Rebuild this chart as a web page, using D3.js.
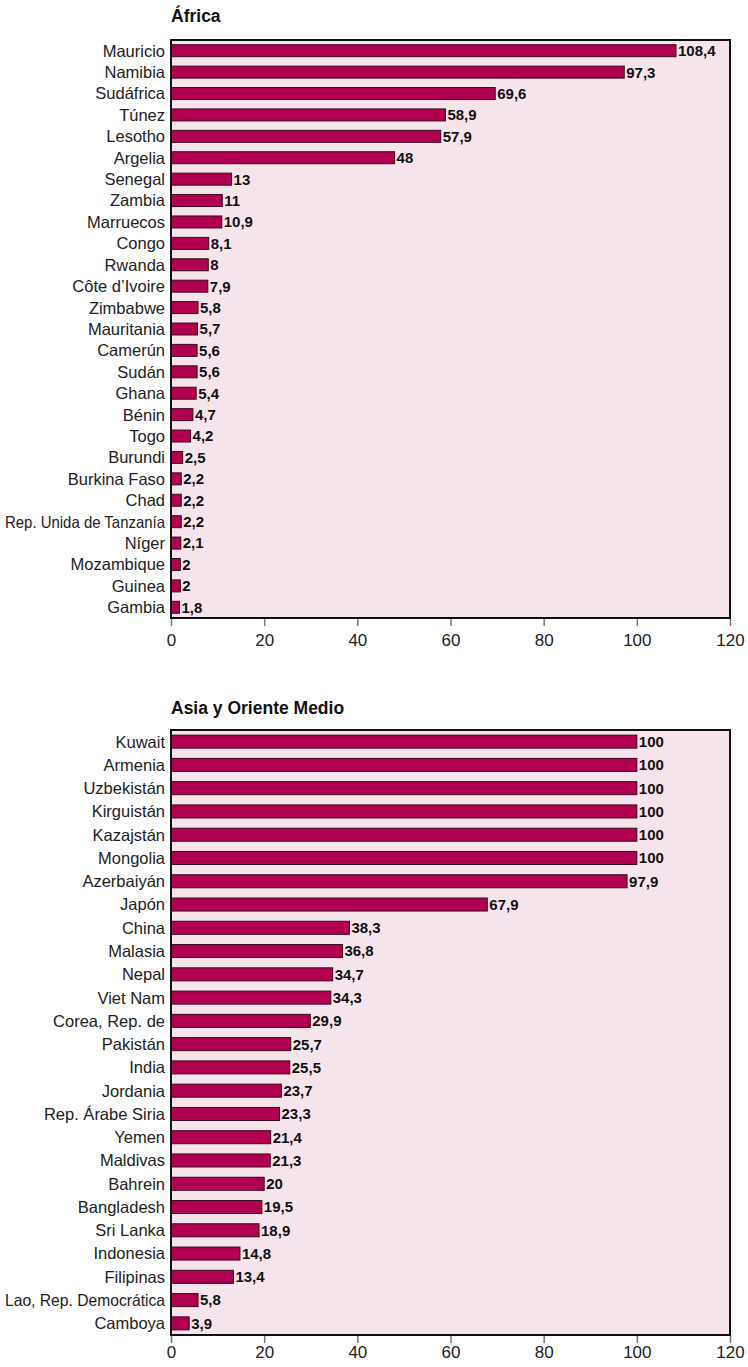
<!DOCTYPE html>
<html><head><meta charset="utf-8">
<script src="https://cdn.jsdelivr.net/npm/d3@7"></script>
<style>body{margin:0;background:#fff}svg{display:block}</style>
</head><body>
<svg id="c" width="748" height="1367"></svg>
<script>
const africaCountries = ["Mauricio","Namibia","Sudáfrica","Túnez","Lesotho","Argelia","Senegal","Zambia","Marruecos","Congo","Rwanda","Côte d’Ivoire","Zimbabwe","Mauritania","Camerún","Sudán","Ghana","Bénin","Togo","Burundi","Burkina Faso","Chad","Rep. Unida de Tanzanía","Níger","Mozambique","Guinea","Gambia"];
const africaValues = [108.4,97.3,69.6,58.9,57.9,48,13,11,10.9,8.1,8,7.9,5.8,5.7,5.6,5.6,5.4,4.7,4.2,2.5,2.2,2.2,2.2,2.1,2,2,1.8];
const asiaCountries = ["Kuwait","Armenia","Uzbekistán","Kirguistán","Kazajstán","Mongolia","Azerbaiyán","Japón","China","Malasia","Nepal","Viet Nam","Corea, Rep. de","Pakistán","India","Jordania","Rep. Árabe Siria","Yemen","Maldivas","Bahrein","Bangladesh","Sri Lanka","Indonesia","Filipinas","Lao, Rep. Democrática","Camboya"];
const asiaValues = [100,100,100,100,100,100,97.9,67.9,38.3,36.8,34.7,34.3,29.9,25.7,25.5,23.7,23.3,21.4,21.3,20,19.5,18.9,14.8,13.4,5.8,3.9];
const xTicks = [0,20,40,60,80,100,120];
const titles = ["África","Asia y Oriente Medio"];

const svg = d3.select("#c");
const fmt = v => String(v).replace(".", ",");
const left = 171, right = 730;
const x = d3.scaleLinear().domain([0,120]).range([left,right]);
const FF = "Liberation Sans, Arial, sans-serif";

function panel(title, cats, vals, top, bottom, titleY, pad, tickPad) {
  const g = svg.append("g");
  g.append("text").attr("x", left).attr("y", titleY)
    .attr("font-family",FF).attr("font-weight","bold")
    .attr("font-size",17.5).attr("fill","#111").text(title);
  g.append("rect").attr("x",left).attr("y",top).attr("width",right-left).attr("height",bottom-top)
    .attr("fill","#f6e4ec");
  const y = d3.scaleBand().domain(cats).range([top,bottom]).paddingInner(pad).paddingOuter(pad/2);
  const ax = g.append("g").attr("transform",`translate(0,${bottom})`)
    .call(d3.axisBottom(x).tickValues(xTicks).tickSize(8).tickPadding(tickPad).tickFormat(d=>d));
  ax.select(".domain").remove();
  ax.selectAll("line").attr("stroke","#777").attr("stroke-width",1.5);
  ax.selectAll("text").attr("font-family",FF).attr("font-size",17).attr("fill","#222");
  g.selectAll("rect.bar").data(cats).join("rect").attr("class","bar")
    .attr("x", x(0)).attr("y", d=>y(d)).attr("height", y.bandwidth())
    .attr("width", (d,i)=>x(vals[i])-x(0))
    .attr("fill","#b0004f").attr("stroke","#3a0a1e").attr("stroke-width",1);
  g.selectAll("text.val").data(cats).join("text").attr("class","val")
    .attr("x",(d,i)=>x(vals[i])+2).attr("y",d=>y(d)+y.bandwidth()/2).attr("dy","0.36em")
    .attr("font-family",FF).attr("font-weight","bold")
    .attr("font-size",15).attr("fill","#111").text((d,i)=>fmt(vals[i]));
  const lab = g.selectAll("text.cat").data(cats).join("text").attr("class","cat")
    .attr("x", left-6).attr("y",d=>y(d)+y.bandwidth()/2).attr("dy","0.36em")
    .attr("text-anchor","end").attr("font-family",FF)
    .attr("font-size",16.5).attr("fill","#222").text(d=>d);
  lab.each(function(){
    const w = this.getComputedTextLength();
    if (w > 160) { d3.select(this).attr("textLength",160).attr("lengthAdjust","spacingAndGlyphs"); }
  });
  g.append("rect").attr("x",left).attr("y",top).attr("width",right-left).attr("height",bottom-top)
    .attr("fill","none").attr("stroke","#111").attr("stroke-width",2);
}
panel(titles[0], africaCountries, africaValues, 40, 618, 22, 0.44, 8);
panel(titles[1], asiaCountries, asiaValues, 730, 1335, 714, 0.44, 3);
</script>
</body></html>
